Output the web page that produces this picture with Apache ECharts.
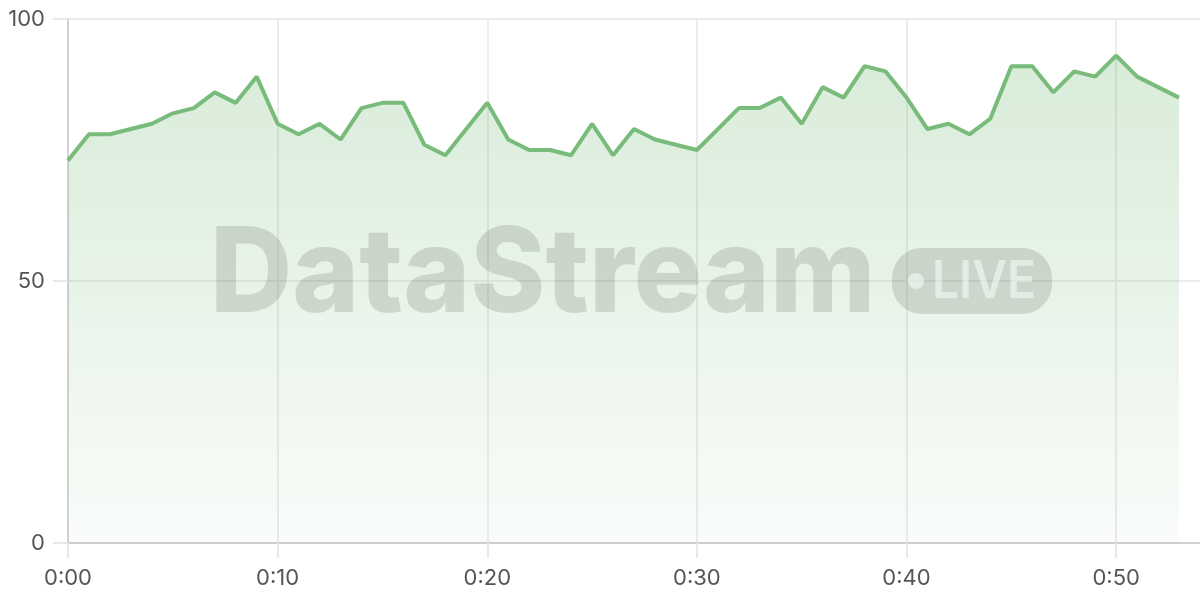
<!DOCTYPE html>
<html>
<head>
<meta charset="utf-8">
<script src="https://cdn.jsdelivr.net/npm/echarts@6/dist/echarts.min.js"></script>
<style>html,body{margin:0;padding:0;background:#fff}#c{width:1200px;height:600px}</style>
</head>
<body>
<div id="c"></div>
<script>
const minutes = [0,1,2,3,4,5,6,7,8,9,10,11,12,13,14,15,16,17,18,19,20,21,22,23,24,25,26,27,28,29,30,31,32,33,34,35,36,37,38,39,40,41,42,43,44,45,46,47,48,49,50,51,52,53];
const values = [73,78,78,79,80,82,83,86,84,89,80,78,80,77,83,84,84,76,74,79,84,77,75,75,74,80,74,79,77,76,75,79,83,83,85,80,87,85,91,90,85,79,80,78,81,91,91,86,90,89,93,89,87,85];
const yTicks = [0,50,100];
const xTickMinutes = [0,10,20,30,40,50];
const watermarkText = 'DataStream';
const badgeText = 'LIVE';

function fmt(m){ const h = Math.floor(m/60); const mm = m%60; return h + ':' + (mm<10?'0':'') + mm; }

const chart = echarts.init(document.getElementById('c'));
const font = 'Inter, "Open Sans", sans-serif';
chart.setOption({
  animation:false,
  backgroundColor:'#fff',
  grid:{left:68,right:0,top:19,bottom:57,containLabel:false},
  xAxis:{type:'value',min:0,max:54,interval:10,
    axisLine:{show:true,lineStyle:{color:'#cfcfcf',width:2}},
    axisTick:{show:true,length:15,lineStyle:{color:'#e8e8e8',width:2},customValues:xTickMinutes},
    axisLabel:{color:'#555',fontSize:22,fontFamily:font,margin:24,customValues:xTickMinutes,formatter:v=>fmt(v)},
    splitLine:{show:true,lineStyle:{color:'#ececec',width:2}}
  },
  yAxis:{type:'value',min:0,max:100,interval:50,
    axisLine:{show:true,lineStyle:{color:'#d2d2d2',width:2}},
    axisTick:{show:true,length:15,lineStyle:{color:'#e8e8e8',width:2}},
    axisLabel:{color:'#555',fontSize:22,fontFamily:font,margin:23},
    splitLine:{show:true,lineStyle:{color:'#ececec',width:2}}
  },
  series:[{type:'line',data:minutes.map((m,i)=>[m,values[i]]),showSymbol:false,symbol:'none',
    lineStyle:{color:'#78bb7a',width:4},
    itemStyle:{color:'#78bb7a'},
    areaStyle:{color:new echarts.graphic.LinearGradient(0,0,0,1,[{offset:0,color:'rgba(124,189,126,0.42)'},{offset:1,color:'rgba(124,189,126,0.06)'}])}
  }],
  graphic:[
    {type:'text',z:100,x:210,y:277,scaleX:0.965,originX:0,style:{text:watermarkText,fill:'rgba(90,100,90,0.2)',font:'800 118px '+font,textVerticalAlign:'middle'}},
    {type:'rect',z:100,shape:{x:892,y:248,width:160,height:66,r:30},style:{fill:'rgba(90,100,90,0.2)'}},
    {type:'circle',z:101,shape:{cx:916,cy:281,r:8},style:{fill:'rgba(255,255,255,0.5)'}},
    {type:'text',z:101,x:932,y:282,scaleX:0.92,originX:0,style:{text:badgeText,fill:'rgba(255,255,255,0.5)',font:'600 52px '+font,textVerticalAlign:'middle'}}
  ]
});
</script>
</body>
</html>
